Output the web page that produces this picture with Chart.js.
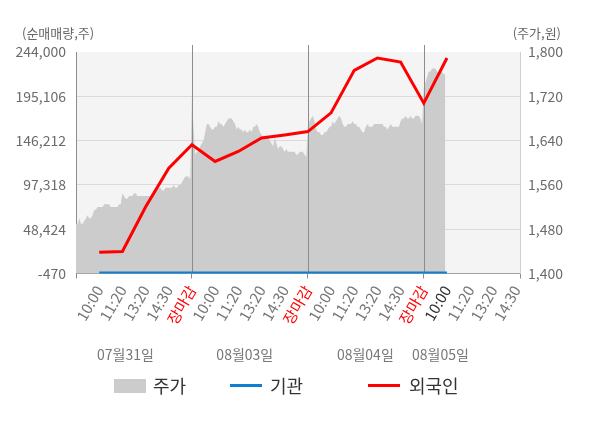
<!DOCTYPE html>
<html><head><meta charset="utf-8">
<script src="https://cdn.jsdelivr.net/npm/chart.js@4.4.0/dist/chart.umd.min.js"></script>
<style>
html,body{margin:0;padding:0;background:#fff;}
#wrap{position:relative;width:600px;height:428px;overflow:hidden;font-family:"Noto Sans CJK KR","Noto Sans",sans-serif;}
canvas{position:absolute;left:0;top:0;}
.t{position:absolute;font-size:13px;color:#666;line-height:13px;white-space:nowrap;}
.lg{position:absolute;font-size:18px;color:#333;line-height:18px;white-space:nowrap;}
.sw{position:absolute;}
</style></head><body>
<div id="wrap">
<canvas id="c" width="600" height="428"></canvas>
<div class="t" style="left:22px;top:26px">(순매매량,주)</div>
<div class="t" style="right:39px;top:26px">(주가,원)</div>
<div id="legend"></div>
</div>
<script>
// ---- data ----
const xLabels = ['', '10:00','11:20','13:20','14:30','장마감','10:00','11:20','13:20','14:30','장마감','10:00','11:20','13:20','14:30','장마감','10:00','11:20','13:20','14:30'];
const dateLabels = ['07월31일','08월03일','08월04일','08월05일'];
const dateLabelAt = [2.13, 7.28, 12.48, 15.72];
const leftTicks = [-470, 48424, 97318, 146212, 195106, 244000];
const rightTicks = [1400, 1480, 1560, 1640, 1720, 1800];
const seriesNames = ['주가', '기관', '외국인'];

// 외국인 / 기관 net volume at x-categories 1..16
const foreignNet = [23000, 23800, 72900, 115800, 141700, 123200, 134200, 149100, 152400, 156200, 176800, 223700, 237400, 232900, 187500, 237400];
const instNet    = [0, 0, 0, 0, 0, 0, 0, 0, 0, 0, 0, 0, 0, 0, 0, 0];

// intraday price, one array per trading day
const priceDay1 = [1490,1490,1500,1490,1490,1495,1500,1505,1500,1500,
  1505,1515,1515,1520,1520,1520,1520,1525,1525,1525,
  1525,1520,1520,1520,1520,1520,1525,1525,1545,1540,
  1535,1535,1540,1540,1540,1545,1545,1540,1540,1540,
  1540,1540,1540,1540,1540,1540,1545,1550,1550,1550,
  1555,1555,1550,1550,1555,1555,1555,1555,1555,1560,
  1555,1555,1560,1560,1565,1570,1575,1575,1575,1570];
const priceDay2 = [1720,1660,1615,1620,1620,1630,1635,1640,1655,1670,
  1670,1665,1660,1660,1665,1665,1675,1670,1670,1665,
  1670,1675,1680,1680,1680,1675,1670,1660,1665,1660,
  1660,1655,1660,1655,1655,1660,1655,1665,1665,1670,
  1665,1655,1650,1645,1645,1645,1645,1640,1635,1630,
  1645,1635,1625,1630,1630,1625,1620,1625,1620,1620,
  1620,1620,1620,1615,1615,1620,1620,1620,1615,1610];
const priceDay3 = [1665,1675,1680,1685,1675,1660,1655,1655,1650,1650,
  1655,1655,1660,1665,1665,1675,1670,1675,1680,1685,
  1680,1670,1665,1665,1670,1670,1670,1675,1670,1670,
  1665,1665,1660,1655,1655,1665,1670,1665,1665,1665,
  1670,1670,1670,1670,1670,1670,1665,1665,1660,1665,
  1670,1665,1665,1665,1665,1665,1675,1680,1680,1685,
  1680,1680,1685,1680,1680,1685,1685,1685,1680,1670];
const priceDay4 = [1735,1745,1755,1765,1765,1770,1770,1770,1765,1760,1765,1765,1760,1760];

// ---- build ----
const xMax = 19.15;
const perDay = 5;              // categories per trading day
const samplesPerDay = 70;
const priceData = [];
[priceDay1, priceDay2, priceDay3, priceDay4].forEach((arr, d) => {
  arr.forEach((v, i) => priceData.push({x: d * perDay + i * perDay / samplesPerDay, y: v}));
});
const foreignData = foreignNet.map((v, i) => ({x: i + 1, y: v}));
const instData = instNet.map((v, i) => ({x: i + 1, y: v}));

const colors = {price: '#cccccc', inst: '#107fcf', foreign: '#ff0000'};
const fmt = v => Number(v).toLocaleString('en-US');

const decor = {
  id: 'decor',
  beforeDraw(chart) {
    const {ctx, chartArea: a} = chart;
    ctx.save();
    ctx.fillStyle = '#f4f4f4';
    ctx.fillRect(a.left, a.top, a.right - a.left, a.bottom - a.top);
    ctx.restore();
  },
  afterDatasetDraw(chart, args) {
    if (args.index !== 0) return;
    const {ctx, chartArea: a, scales: {x}} = chart;
    ctx.save();
    ctx.strokeStyle = '#8c8c8c';
    ctx.lineWidth = 1;
    xLabels.forEach((l, i) => {
      if (l === '장마감') {
        const px = Math.round(x.getPixelForValue(i)) + 0.5;
        ctx.beginPath();
        ctx.moveTo(px, a.top - 7);
        ctx.lineTo(px, a.bottom);
        ctx.stroke();
      }
    });
    ctx.restore();
  }
};

Chart.defaults.font.family = '"Noto Sans CJK KR","Noto Sans",sans-serif';

new Chart(document.getElementById('c'), {
  type: 'line',
  data: {
    datasets: [
      {label: seriesNames[0], data: priceData, yAxisID: 'y1', xAxisID: 'x', borderColor: 'transparent', borderWidth: 0,
       backgroundColor: colors.price, fill: 'start', pointRadius: 0, order: 3},
      {label: seriesNames[1], data: instData, yAxisID: 'y', xAxisID: 'x', borderColor: colors.inst, borderWidth: 3,
       pointRadius: 0, fill: false, order: 2},
      {label: seriesNames[2], data: foreignData, yAxisID: 'y', xAxisID: 'x', borderColor: colors.foreign, borderWidth: 3,
       pointRadius: 0, fill: false, order: 1}
    ]
  },
  options: {
    responsive: false,
    animation: false,
    events: [],
    layout: {padding: {top: 52, left: 0, right: 0, bottom: 54.5}},
    plugins: {legend: {display: false}, tooltip: {enabled: false}},
    scales: {
      x: {
        type: 'linear', position: 'bottom', min: 0, max: xMax, weight: 0,
        afterBuildTicks: s => { s.ticks = xLabels.map((_, i) => ({value: i})).concat([{value: xMax}]); },
        afterFit: s => { s.height = 70; },
        ticks: {
          autoSkip: false, maxRotation: 60, minRotation: 60, padding: 4,
          font: {size: 15},
          color: c => { const l = xLabels[c.index]; if (l === '장마감') return '#ff0000'; if (c.index === 16) return '#333333'; return '#777777'; },
          callback: (v, i) => (i < xLabels.length ? xLabels[i] : '')
        },
        grid: {drawOnChartArea: false, tickLength: 5,
          tickColor: c => { const v = c.tick ? c.tick.value : -1; return (v === 0 || v === xMax || xLabels[v] === '장마감') ? '#8c8c8c' : 'transparent'; }},
        border: {display: true, color: '#a0a0a0', width: 1}
      },
      x2: {
        type: 'linear', position: 'bottom', min: 0, max: xMax, weight: 1,
        afterBuildTicks: s => { s.ticks = dateLabelAt.map(v => ({value: v})); },
        afterFit: s => { s.height = 30; },
        ticks: {autoSkip: false, maxRotation: 0, minRotation: 0, padding: 3, font: {size: 14}, color: '#777777',
          callback: (v, i) => dateLabels[i]},
        grid: {display: false, drawTicks: false},
        border: {display: false}
      },
      y: {
        type: 'linear', position: 'left', min: leftTicks[0], max: leftTicks[leftTicks.length - 1],
        afterBuildTicks: s => { s.ticks = leftTicks.map(v => ({value: v})); },
        afterFit: s => { s.width = 76; },
        ticks: {padding: 10, font: {size: 14}, color: '#6b6b6b', callback: v => fmt(v)},
        grid: {drawTicks: false, color: c => (c.tick && c.tick.value === leftTicks[leftTicks.length - 1]) ? 'transparent' : '#dadada'},
        border: {display: true, color: '#8c8c8c'}
      },
      y1: {
        type: 'linear', position: 'right', min: rightTicks[0], max: rightTicks[rightTicks.length - 1],
        afterBuildTicks: s => { s.ticks = rightTicks.map(v => ({value: v})); },
        afterFit: s => { s.width = 80; },
        ticks: {padding: 8, font: {size: 14}, color: '#6b6b6b', callback: v => fmt(v)},
        grid: {drawOnChartArea: false, drawTicks: false},
        border: {display: true, color: '#cfcfcf'}
      }
    }
  },
  plugins: [decor]
});

// ---- legend (HTML) ----
const legendLayout = [
  {kind: 'box', color: colors.price, sw: 114, tx: 153},
  {kind: 'line', color: colors.inst, sw: 230, tx: 270},
  {kind: 'line', color: colors.foreign, sw: 368, tx: 409}
];
const lg = document.getElementById('legend');
legendLayout.forEach((it, i) => {
  const s = document.createElement('div');
  s.className = 'sw';
  s.style.left = it.sw + 'px';
  s.style.background = it.color;
  if (it.kind === 'box') { s.style.top = '379px'; s.style.width = '32px'; s.style.height = '14px'; }
  else { s.style.top = '384px'; s.style.width = '32px'; s.style.height = '3px'; }
  lg.appendChild(s);
  const t = document.createElement('div');
  t.className = 'lg';
  t.style.left = it.tx + 'px';
  t.style.top = '376px';
  t.textContent = seriesNames[i];
  lg.appendChild(t);
});
</script>
</body></html>
